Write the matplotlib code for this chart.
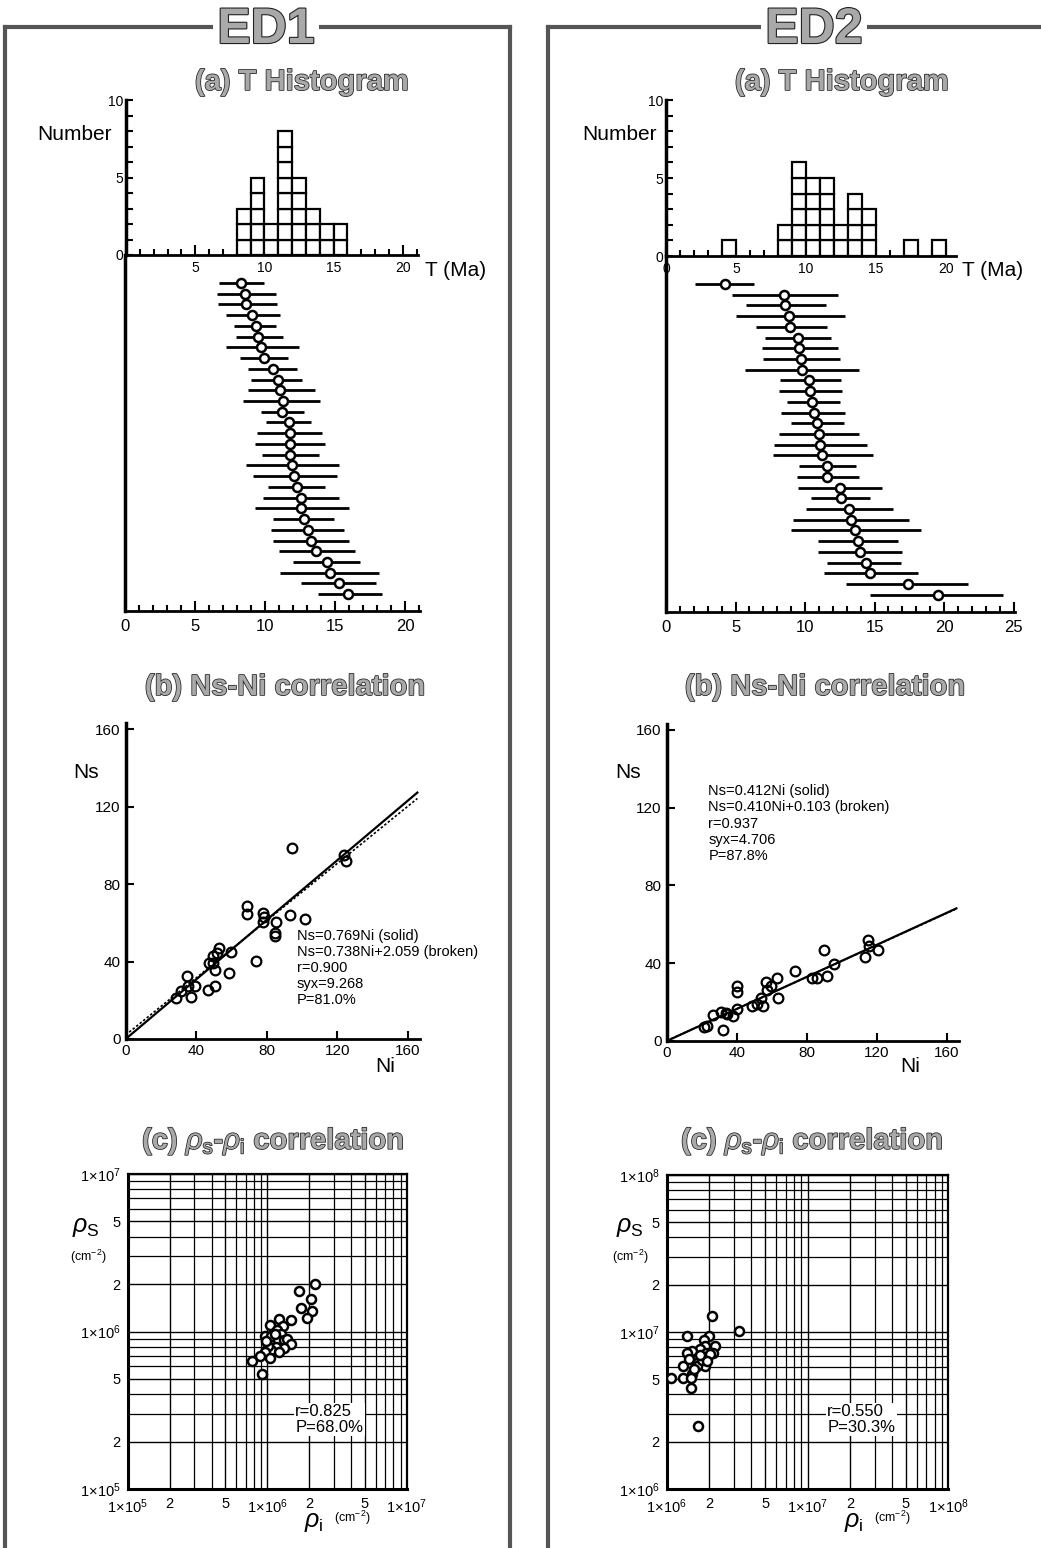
import numpy as np
import matplotlib
matplotlib.use('Agg')
from matplotlib import pyplot as plt
from matplotlib.lines import Line2D
from matplotlib.ticker import MultipleLocator
import matplotlib.patheffects as pe

plt.rcParams['font.family'] = ['Liberation Sans', 'DejaVu Sans']
plt.rcParams['mathtext.fontset'] = 'custom'
plt.rcParams['mathtext.rm'] = 'Liberation Sans'
plt.rcParams['mathtext.it'] = 'Liberation Sans:italic'
plt.rcParams['mathtext.bf'] = 'Liberation Sans:bold'

# ---- data ----
# (a) single grain ages (Ma), lower / upper bounds of the error bars
ed1_age = [8.3, 8.6, 8.65, 9.1, 9.35, 9.5, 9.7, 9.95, 10.6, 10.9, 11.1, 11.25, 11.2, 11.7, 11.75,
           11.75, 11.8, 11.95, 12.1, 12.25, 12.6, 12.6, 12.75, 13.1, 13.3, 13.65, 14.45, 14.65, 15.3, 15.95]
ed1_lo = [6.7, 6.55, 6.65, 7.2, 7.75, 7.95, 7.2, 8.2, 8.8, 9.0, 8.8, 8.45, 9.7, 10.05, 9.4,
          9.3, 9.75, 8.65, 9.15, 10.2, 9.85, 9.25, 10.6, 10.4, 10.6, 11.0, 12.0, 11.1, 12.6, 13.75]
ed1_hi = [9.95, 10.75, 10.85, 11.1, 10.8, 11.25, 12.45, 11.65, 12.3, 12.65, 13.55, 13.95, 12.8, 13.3, 14.05,
          14.25, 13.85, 15.3, 15.15, 14.25, 15.3, 16.0, 14.9, 15.65, 16.0, 16.4, 16.8, 18.15, 17.9, 18.35]

ed2_age = [4.25, 8.5, 8.55, 8.85, 8.95, 9.5, 9.6, 9.7, 9.8, 10.25, 10.35, 10.5, 10.65, 10.85, 11.0,
           11.05, 11.25, 11.6, 11.6, 12.5, 12.6, 13.15, 13.3, 13.6, 13.8, 13.95, 14.35, 14.65, 17.4, 19.55]
ed2_lo = [2.05, 4.75, 5.75, 5.0, 6.5, 7.1, 6.9, 6.95, 5.7, 8.2, 8.15, 8.7, 8.25, 9.0, 8.1,
          7.75, 7.7, 9.6, 9.4, 9.5, 10.45, 10.1, 9.1, 9.0, 10.95, 10.9, 11.6, 11.35, 12.95, 14.65]
ed2_hi = [6.3, 12.35, 11.5, 12.9, 11.55, 11.9, 12.4, 12.5, 13.9, 12.55, 12.65, 12.5, 12.9, 12.8, 13.9,
          14.45, 14.9, 13.7, 13.9, 15.5, 14.65, 16.3, 17.5, 18.35, 16.65, 17.0, 16.9, 18.1, 21.7, 24.25]

# (a) histogram, 1 Ma bins (left edge, count)
ed1_bins = [8, 9, 10, 11, 12, 13, 14, 15]
ed1_counts = [3, 5, 2, 8, 5, 3, 2, 2]
ed2_bins = [4, 8, 9, 10, 11, 12, 13, 14, 17, 19]
ed2_counts = [1, 2, 6, 5, 5, 2, 4, 3, 1, 1]

# (b) Ns-Ni
ed1_ni = [94.5, 123.6, 125.0, 69.0, 69.0, 78.1, 78.1, 93.2, 101.5, 85.3, 84.7, 84.7, 78.6, 73.7, 59.5,
          53.1, 51.6, 49.7, 47.4, 49.7, 50.7, 58.8, 50.7, 46.9, 34.6, 35.5, 39.3, 36.9, 31.2, 28.4]
ed1_ns = [98.6, 95.0, 91.7, 68.9, 64.8, 65.1, 60.3, 64.2, 62.2, 60.3, 54.9, 53.0, 63.0, 40.2, 45.1,
          47.2, 44.6, 43.0, 39.4, 39.4, 35.4, 34.2, 27.3, 25.4, 32.3, 27.6, 27.3, 21.9, 25.0, 21.2]
ed2_ni = [114.9, 115.8, 121.0, 113.3, 90.1, 95.6, 91.4, 83.2, 86.1, 73.1, 63.2, 56.8, 59.4, 57.5, 63.8,
          53.7, 54.9, 49.0, 51.4, 40.4, 40.4, 40.0, 38.1, 33.9, 31.0, 26.3, 32.0, 22.9, 21.5, 34.3]
ed2_ns = [51.8, 48.7, 47.0, 43.4, 46.7, 39.8, 33.5, 32.3, 32.3, 35.9, 32.5, 30.1, 28.4, 26.3, 22.2,
          21.9, 17.8, 17.8, 19.0, 28.4, 25.0, 16.5, 12.6, 14.3, 15.1, 13.2, 5.5, 7.7, 7.4, 13.8]
ed1_fit = {'solid': (0.769, 0.0), 'broken': (0.738, 2.059)}
ed2_fit = {'solid': (0.412, 0.0), 'broken': (0.410, 0.103)}
ed1_stats = "Ns=0.769Ni (solid)\nNs=0.738Ni+2.059 (broken)\nr=0.900\nsyx=9.268\nP=81.0%"
ed2_stats = "Ns=0.412Ni (solid)\nNs=0.410Ni+0.103 (broken)\nr=0.937\nsyx=4.706\nP=87.8%"

# (c) rho_s - rho_i (cm^-2)
ed1_rhoi = [2.19e6, 1.68e6, 2.07e6, 1.74e6, 2.09e6, 1.93e6, 1.22e6, 1.47e6, 1.05e6, 1.30e6, 1.18e6, 0.96e6,
            1.06e6, 1.26e6, 1.19e6, 1.31e6, 1.39e6, 1.47e6, 1.31e6, 1.15e6, 1.07e6, 1.01e6, 0.96e6, 0.88e6,
            1.05e6, 0.78e6, 0.92e6, 1.13e6, 0.98e6, 1.21e6]
ed1_rhos = [2.0e6, 1.81e6, 1.61e6, 1.42e6, 1.35e6, 1.21e6, 1.20e6, 1.18e6, 1.10e6, 1.09e6, 1.02e6, 0.94e6,
            0.93e6, 0.97e6, 0.88e6, 0.88e6, 0.89e6, 0.83e6, 0.78e6, 0.80e6, 0.76e6, 0.81e6, 0.74e6, 0.70e6,
            0.68e6, 0.65e6, 0.54e6, 0.97e6, 0.87e6, 0.74e6]
ed2_rhoi = [2.10e6, 3.28e6, 1.39e6, 1.99e6, 1.84e6, 2.20e6, 1.87e6, 1.72e6, 1.51e6, 1.40e6, 2.12e6, 1.89e6,
            1.63e6, 1.87e6, 2.03e6, 1.63e6, 1.31e6, 1.88e6, 1.63e6, 1.51e6, 1.07e6, 1.31e6, 1.48e6, 1.48e6,
            1.68e6, 1.77e6, 1.56e6, 1.92e6, 1.72e6, 1.43e6]
ed2_rhos = [1.27e7, 1.02e7, 9.46e6, 9.37e6, 8.92e6, 8.17e6, 8.1e6, 7.78e6, 7.6e6, 7.33e6, 7.4e6, 7.4e6,
            6.82e6, 6.9e6, 7.2e6, 6.34e6, 6.04e6, 6.1e6, 6.04e6, 5.42e6, 5.09e6, 5.09e6, 5.09e6, 4.40e6,
            2.51e6, 6.6e6, 5.8e6, 6.5e6, 7.1e6, 6.7e6]
ed1_rstats = "r=0.825\nP=68.0%"
ed2_rstats = "r=0.550\nP=30.3%"

W, H = 1041, 1548
fig = plt.figure(figsize=(W / 100, H / 100), dpi=100)


def px_axes(left, top, right, bottom):
    return fig.add_axes([left / W, 1 - bottom / H, (right - left) / W, (bottom - top) / H])


def ftext(x, y, s, **kw):
    return fig.text(x / W, 1 - y / H, s, **kw)


outline = [pe.withStroke(linewidth=1.1, foreground='#222222')]
GRAY = '#a9a9a9'


def title(x, y, s, size=21):
    ftext(x, y, s, ha='center', va='center', fontsize=size, fontweight='bold',
          color=GRAY, path_effects=outline)


# ---- frames ----
for (x0, x1) in [(5, 510), (548, 1045)]:
    fig.add_artist(Line2D([x0 / W, x0 / W], [0, 1 - 27 / H], color='#555555', lw=3))
    fig.add_artist(Line2D([x0 / W, x1 / W], [1 - 27 / H, 1 - 27 / H], color='#555555', lw=3))
fig.add_artist(Line2D([510 / W, 510 / W], [0, 1 - 27 / H], color='#555555', lw=3))

for x, s in [(266, 'ED1'), (814, 'ED2')]:
    ftext(x, 30, s, ha='center', va='center', fontsize=36, fontweight='bold', color=GRAY,
          path_effects=[pe.withStroke(linewidth=1.6, foreground='#222222')],
          bbox=dict(facecolor='white', edgecolor='none', pad=3))


def style_spines(ax, lw_left=2.5, lw_bottom=2.0):
    for s in ['top', 'right']:
        ax.spines[s].set_visible(False)
    ax.spines['left'].set_linewidth(lw_left)
    ax.spines['bottom'].set_linewidth(lw_bottom)
    ax.patch.set_alpha(0)


def histogram(ax, bins, counts, xmax, show_zero):
    bins = np.array(bins)
    counts = np.array(counts)
    for level in range(counts.max()):
        m = counts > level
        ax.bar(bins[m], 1, bottom=level, width=1, align='edge', facecolor='white',
               edgecolor='black', lw=1.6, zorder=3)
    ax.set_xlim(0, xmax)
    ax.set_ylim(0, 10)
    style_spines(ax)
    ax.xaxis.set_major_locator(MultipleLocator(5))
    ax.xaxis.set_minor_locator(MultipleLocator(1))
    ax.yaxis.set_major_locator(MultipleLocator(5))
    ax.yaxis.set_minor_locator(MultipleLocator(1))
    ax.tick_params(which='both', direction='in', labelsize=10, width=1.5)
    ax.tick_params(axis='x', which='major', length=7, pad=4)
    ax.tick_params(axis='x', which='minor', length=4)
    ax.tick_params(axis='y', which='both', length=5, pad=2)
    ticks = [0, 5, 10, 15, 20]
    ax.set_xticks(ticks)
    ax.set_xticklabels([str(t) if (t > 0 or show_zero) else '' for t in ticks])


def ages(ax, age, lo, hi, xmax, ticks):
    rows = np.arange(1, len(age) + 1)
    ax.hlines(rows, lo, hi, color='black', lw=2.0)
    ax.plot(age, rows, 'o', mfc='white', mec='black', ms=6.5, mew=1.8, zorder=4)
    ax.set_xlim(0, xmax)
    ax.set_ylim(31.57, -1.61)
    style_spines(ax)
    ax.set_yticks([])
    ax.set_xticks(ticks)
    ax.xaxis.set_minor_locator(MultipleLocator(1))
    ax.tick_params(which='both', direction='in', labelsize=12, width=1.5)
    ax.tick_params(which='major', length=7, pad=6)
    ax.tick_params(which='minor', length=4)


def nsni(ax, ni, ns, fit, stats, tx, ty):
    xs = np.array([0, 165.5])
    a, b = fit['solid']
    ax.plot(xs, a * xs + b, color='black', lw=1.6)
    a, b = fit['broken']
    ax.plot(xs, a * xs + b, color='black', lw=1.2, ls=(0, (1.5, 1.2)))
    ax.plot(ni, ns, 'o', mfc='none', mec='black', ms=7, mew=1.6)
    ax.set_xlim(0, 167)
    ax.set_ylim(0, 163)
    style_spines(ax)
    ax.set_xticks([0, 40, 80, 120, 160])
    ax.set_yticks([0, 40, 80, 120, 160])
    ax.tick_params(direction='in', length=6, width=1.5, labelsize=11)
    ax.text(tx, ty, stats, ha='left', va='top', fontsize=10.5, linespacing=1.2)


def sup(e):
    return r'$1\!\times\!10^{%d}$' % e


def rho(ax, ri, rs, lo_exp, stats, bx):
    ax.set_xscale('log')
    ax.set_yscale('log')
    lo, hi = 10.0 ** lo_exp, 10.0 ** (lo_exp + 2)
    ax.set_xlim(lo, hi)
    ax.set_ylim(lo, hi)
    vals = [lo, 2 * lo, 5 * lo, 10 * lo, 20 * lo, 50 * lo, hi]
    labs = [sup(lo_exp), '2', '5', sup(lo_exp + 1), '2', '5', sup(lo_exp + 2)]
    ax.set_xticks(vals)
    ax.set_xticklabels(labs)
    ax.set_yticks(vals)
    ax.set_yticklabels(labs)
    ax.minorticks_on()
    ax.tick_params(which='both', length=0, labelsize=10.5)
    ax.tick_params(axis='x', pad=6)
    ax.tick_params(axis='y', pad=5)
    ax.grid(True, which='major', color='black', lw=1.0)
    ax.grid(True, which='minor', color='black', lw=0.9)
    for s in ax.spines.values():
        s.set_linewidth(1.6)
    ax.spines['left'].set_linewidth(2.2)
    ax.spines['bottom'].set_linewidth(2.2)
    ax.plot(ri, rs, 'o', mfc='white', mec='black', ms=6.5, mew=1.8, zorder=5)
    ax.text(bx, 0.27, stats, transform=ax.transAxes, ha='left', va='top', fontsize=12,
            linespacing=1.05, zorder=6,
            bbox=dict(facecolor='white', edgecolor='none', pad=1))


# ---- ED1 ----
title(302, 82, '(a) T Histogram')
ax = px_axes(126, 100, 418, 255)
histogram(ax, ed1_bins, ed1_counts, 21.1, False)
ftext(112, 134, 'Number', ha='right', va='center', fontsize=15)
ftext(425, 270, 'T (Ma)', ha='left', va='center', fontsize=15)
ax = px_axes(125, 255, 420.4, 611)
ages(ax, ed1_age, ed1_lo, ed1_hi, 21.1, [0, 5, 10, 15, 20])

title(285, 687, '(b) Ns-Ni correlation')
ax = px_axes(125.7, 723.4, 420, 1039)
nsni(ax, ed1_ni, ed1_ns, ed1_fit, ed1_stats, 97, 57)
ftext(86, 772, 'Ns', ha='center', va='center', fontsize=15)
ftext(385, 1067, 'Ni', ha='center', va='center', fontsize=15)

title(273, 1141, r'(c) $\rho_{\mathrm{s}}$-$\rho_{\mathrm{i}}$ correlation')
ax = px_axes(127.7, 1174, 407, 1489)
rho(ax, ed1_rhoi, ed1_rhos, 5, ed1_rstats, 0.6)
ftext(86, 1227, r'$\rho_{\mathrm{S}}$', ha='center', va='center', fontsize=18)
ftext(88, 1257, r'(cm$^{-2}$)', ha='center', va='center', fontsize=9)
ftext(314, 1522, r'$\rho_{\mathrm{i}}$', ha='center', va='center', fontsize=18)
ftext(352, 1518, r'(cm$^{-2}$)', ha='center', va='center', fontsize=9)

# ---- ED2 ----
title(842, 82, '(a) T Histogram')
ax = px_axes(666, 100, 956, 256)
histogram(ax, ed2_bins, ed2_counts, 20.7, True)
ftext(657, 134, 'Number', ha='right', va='center', fontsize=15)
ftext(962, 270, 'T (Ma)', ha='left', va='center', fontsize=15)
ax = px_axes(666, 256, 1015, 611.5)
ages(ax, ed2_age, ed2_lo, ed2_hi, 25.1, [0, 5, 10, 15, 20, 25])

title(825, 687, '(b) Ns-Ni correlation')
ax = px_axes(666.7, 724, 959, 1041)
nsni(ax, ed2_ni, ed2_ns, ed2_fit, ed2_stats, 23.8, 132)
ftext(628, 772, 'Ns', ha='center', va='center', fontsize=15)
ftext(910, 1067, 'Ni', ha='center', va='center', fontsize=15)

title(812, 1141, r'(c) $\rho_{\mathrm{s}}$-$\rho_{\mathrm{i}}$ correlation')
ax = px_axes(666.7, 1175, 948.3, 1489)
rho(ax, ed2_rhoi, ed2_rhos, 6, ed2_rstats, 0.57)
ftext(630, 1227, r'$\rho_{\mathrm{S}}$', ha='center', va='center', fontsize=18)
ftext(630, 1257, r'(cm$^{-2}$)', ha='center', va='center', fontsize=9)
ftext(854, 1522, r'$\rho_{\mathrm{i}}$', ha='center', va='center', fontsize=18)
ftext(892, 1518, r'(cm$^{-2}$)', ha='center', va='center', fontsize=9)

fig.savefig('out.png', dpi=100)
